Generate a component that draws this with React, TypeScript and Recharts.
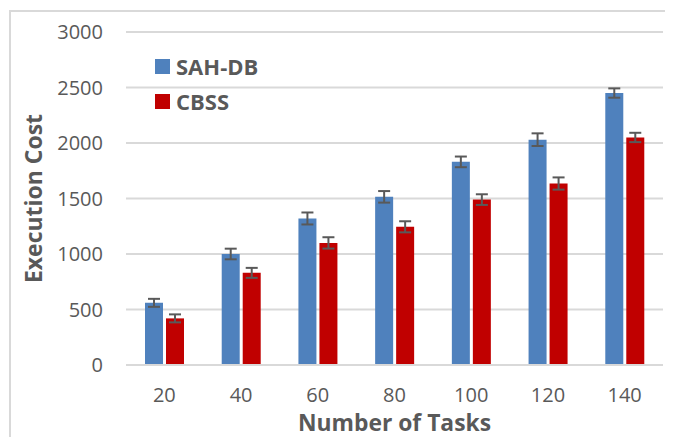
import React from 'react';
import { BarChart, Bar, XAxis, YAxis, CartesianGrid, ErrorBar, Label } from 'recharts';

const categories = ['20', '40', '60', '80', '100', '120', '140'];
const sahdbValues = [560, 1000, 1320, 1515, 1830, 2030, 2450];
const sahdbErrors = [36, 48, 54, 52, 48, 57, 42];
const cbssValues = [420, 830, 1100, 1245, 1490, 1635, 2050];
const cbssErrors = [36, 45, 51, 50, 48, 55, 42];
const yTicks = [0, 500, 1000, 1500, 2000, 2500, 3000];

const data = categories.map((c, i) => ({
  name: c,
  sahdb: sahdbValues[i],
  sahdbErr: sahdbErrors[i],
  cbss: cbssValues[i],
  cbssErr: cbssErrors[i],
}));

const BLUE = '#4F81BD';
const RED = '#C00000';
const TEXT = '#595959';
const GRID = '#d9d9d9';
const FONT = '"Open Sans", sans-serif';

const legendItems = [
  { label: 'SAH-DB', color: BLUE },
  { label: 'CBSS', color: RED },
];

const YLabel = (props: any) => {
  const vb = props.viewBox || {};
  const x = (vb.x ?? 0) + 34;
  const y = (vb.y ?? 0) + (vb.height ?? 0) / 2;
  return (
    <text
      x={x}
      y={y}
      transform={`rotate(-90, ${x}, ${y})`}
      textAnchor="middle"
      fill={TEXT}
      fontFamily={FONT}
      fontWeight={700}
      fontSize={24}
      textLength={169}
      lengthAdjust="spacingAndGlyphs"
    >
      Execution Cost
    </text>
  );
};

const XLabel = (props: any) => {
  const vb = props.viewBox || {};
  const x = (vb.x ?? 0) + (vb.width ?? 0) / 2;
  const y = (vb.y ?? 0) + 66;
  return (
    <text
      x={x}
      y={y}
      textAnchor="middle"
      fill={TEXT}
      fontFamily={FONT}
      fontWeight={700}
      fontSize={24}
      textLength={193}
      lengthAdjust="spacingAndGlyphs"
    >
      Number of Tasks
    </text>
  );
};

export default function App() {
  return (
    <div style={{ position: 'relative', width: 665, height: 429, overflow: 'hidden', background: '#fff' }}>
      <div
        style={{
          position: 'absolute',
          left: 1,
          top: 2,
          width: 800,
          height: 600,
          borderTop: `2px solid ${GRID}`,
          borderLeft: `2px solid ${GRID}`,
        }}
      />
      <div style={{ position: 'absolute', left: 0, top: 0 }}>
        <BarChart
          width={665}
          height={429}
          data={data}
          margin={{ top: 24, right: 10, bottom: 0, left: 0 }}
          barSize={18}
          barGap={3}
        >
          <CartesianGrid vertical={false} stroke={GRID} strokeWidth={2} />
          <XAxis
            dataKey="name"
            height={72}
            axisLine={{ stroke: GRID, strokeWidth: 2 }}
            tickLine={false}
            tickSize={0}
            tickMargin={23}
            tick={{ fill: TEXT, fontFamily: FONT, fontSize: 20 }}
            interval={0}
          >
            <Label content={<XLabel />} />
          </XAxis>
          <YAxis
            width={118}
            domain={[0, 3000]}
            ticks={yTicks}
            axisLine={false}
            tickLine={false}
            tickSize={0}
            tickMargin={23}
            tick={{ fill: TEXT, fontFamily: FONT, fontSize: 20 }}
            interval={0}
          >
            <Label content={<YLabel />} />
          </YAxis>
          <Bar dataKey="sahdb" name="SAH-DB" fill={BLUE} isAnimationActive={false}>
            <ErrorBar dataKey="sahdbErr" width={6} stroke={TEXT} strokeWidth={2} direction="y" />
          </Bar>
          <Bar dataKey="cbss" name="CBSS" fill={RED} isAnimationActive={false}>
            <ErrorBar dataKey="cbssErr" width={6} stroke={TEXT} strokeWidth={2} direction="y" />
          </Bar>
        </BarChart>
      </div>
      <div style={{ position: 'absolute', left: 147, top: 43, display: 'flex', flexDirection: 'column', gap: 5 }}>
        {legendItems.map((it) => (
          <div key={it.label} style={{ display: 'flex', alignItems: 'center', height: 30 }}>
            <span style={{ display: 'inline-block', width: 15, height: 15, background: it.color, marginRight: 6 }} />
            <span style={{ fontFamily: FONT, fontWeight: 700, fontSize: 22, color: TEXT, lineHeight: '30px' }}>{it.label}</span>
          </div>
        ))}
      </div>
    </div>
  );
}
